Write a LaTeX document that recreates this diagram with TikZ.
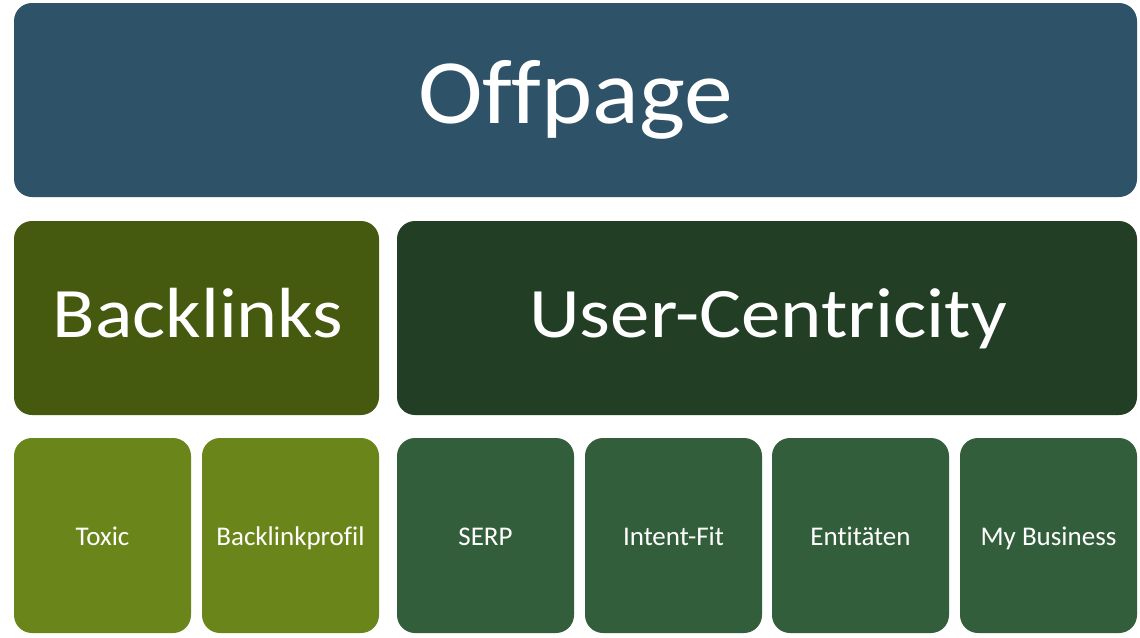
\documentclass[tikz,border=0pt]{standalone}
\usepackage{fontspec}
\setmainfont{Carlito}[Ligatures={NoCommon}]
\definecolor{topblue}{HTML}{2E5268}
\definecolor{olivedark}{HTML}{45590F}
\definecolor{greendark}{HTML}{223F26}
\definecolor{olivelight}{HTML}{6A8519}
\definecolor{greenmid}{HTML}{335E3B}
\begin{document}
\begin{tikzpicture}[x=1pt,y=-1pt,
  tile/.style={rounded corners=18pt},
  label/.style={text=white, inner sep=0pt, anchor=base},
]
\useasboundingbox (0,0) rectangle (1140,637);
\fill[white] (0,0) rectangle (1140,637);
% top
\fill[topblue, tile] (14,3) rectangle (1137,197);
\node[label, font=\fontsize{92}{100}\selectfont] (offpage) at (575.5,123) {\scalebox{1.06}[1]{Offpage}};
% middle
\fill[olivedark, tile] (14,221) rectangle (379,415);
\node[label, font=\fontsize{71}{80}\selectfont] (backlinks) at (198,337) {\scalebox{1.1}[1]{Backlinks}};
\fill[greendark, tile] (397,221) rectangle (1137,415);
\node[label, font=\fontsize{71}{80}\selectfont] (uc) at (768,337) {\scalebox{1.11}[1]{User-Centricity}};
% bottom
\foreach \a/\b/\c/\t/\n in {14/191/olivelight/Toxic/toxic, 202/379/olivelight/Backlinkprofil/bprof,
  397/574/greenmid/SERP/serp, 585/762/greenmid/Intent-Fit/intent,
  772/949/greenmid/Entitäten/ent, 960/1137/greenmid/My Business/mybiz}{
  \fill[\c, tile] (\a,438) rectangle (\b,633);
  \node[label, font=\fontsize{27}{30}\selectfont] (\n) at ({(\a+\b)/2},545) {\t};
}
\end{tikzpicture}
\end{document}
